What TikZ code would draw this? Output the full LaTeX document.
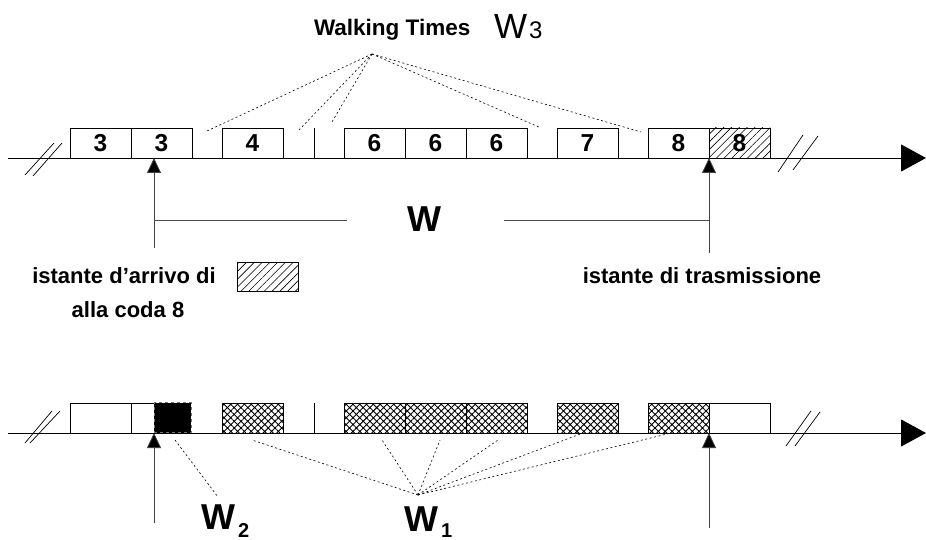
\documentclass[tikz,border=0pt]{standalone}
\usepackage{fontspec}
\setmainfont{Liberation Sans}
\usetikzlibrary{arrows.meta,patterns.meta}

\tikzset{
  slot/.style={draw, line width=0.8pt, minimum width=61pt, minimum height=30pt,
    inner sep=0pt, outer sep=0pt, anchor=south west,
    font=\fontsize{24.5}{25}\selectfont\bfseries},
  hatched/.style={pattern={Lines[angle=45,distance=5.5pt,line width=0.6pt]}},
  cross/.style={pattern={Hatch[angle=45,distance=4.8pt,line width=0.9pt]}},
  axis/.style={line width=0.9pt, -{Triangle[length=25pt,width=27pt]}},
  uparrow/.style={line width=0.8pt, draw=black!75, -{Triangle[length=15pt,width=14pt,fill=black]}},
  guide/.style={line width=0.8pt, draw=black!70},
  wt/.style={dash pattern=on 2pt off 2.5pt, line width=0.6pt},
  brk/.style={line width=0.7pt},
  lab/.style={inner sep=0pt, outer sep=0pt, font=\fontsize{22}{24}\selectfont\bfseries},
  big/.style={inner sep=0pt, outer sep=0pt, font=\fontsize{36}{38}\selectfont\bfseries},
  sub/.style={inner sep=0pt, outer sep=0pt, font=\fontsize{20}{22}\selectfont\bfseries},
  tick/.style={line width=0.8pt},
}

\begin{document}
\begin{tikzpicture}[x=1pt,y=-1pt]
\fill[white] (0,0) rectangle (926,540);
\useasboundingbox (0,0) rectangle (926,540);

% ---------- upper time line ----------
\coordinate (tA) at (8,158);
\coordinate (tB) at (926,158);
\draw[axis] (tA) -- (tB);

\node[slot] (b1) at (70,158) {3};
\node[slot] (b2) at (131,158) {3};
\node[slot] (b3) at (222,158) {4};
\node[slot] (b4) at (344,158) {6};
\node[slot] (b5) at (405,158) {6};
\node[slot] (b6) at (466,158) {6};
\node[slot] (b7) at (557,158) {7};
\node[slot] (b8) at (648,158) {8};
\node[slot,hatched] (b9) at (709,158) {8};
\coordinate (k1) at (314,128);
\coordinate (k1b) at (314,158);
\draw[tick] (k1) -- (k1b);

% break marks
\coordinate (s1a) at (25,175); \coordinate (s1b) at (54,143);
\coordinate (s2a) at (33,176); \coordinate (s2b) at (62,143);
\draw[brk] (s1a) -- (s1b) (s2a) -- (s2b);
\coordinate (s3a) at (778,172); \coordinate (s3b) at (803,135);
\coordinate (s4a) at (793,170); \coordinate (s4b) at (818,136);
\draw[brk] (s3a) -- (s3b) (s4a) -- (s4b);

% walking times
\node[lab, anchor=base west, font=\fontsize{22.5}{24}\selectfont\bfseries] (wtl) at (314,36) {Walking Times};
\node[big, anchor=base west, font=\fontsize{35}{36}\selectfont] (w3) at (494,39) {W};
\node[sub, anchor=base west, font=\fontsize{24}{26}\selectfont] (w3s) at (529,39) {3};
\coordinate (wt) at (372,54);
\coordinate (g1) at (207,131);
\coordinate (g2) at (298,131);
\coordinate (g3) at (332,122);
\coordinate (g4) at (541,128);
\coordinate (g5) at (641,132);
\foreach \g in {g1,g2,g3,g4,g5} \draw[wt] (wt) -- (\g);

% arrival and transmission instants
\coordinate (t1) at (154,158);
\coordinate (a1) at (154,248);
\coordinate (t2) at (709,158);
\coordinate (a2) at (709,253);
\draw[uparrow] (a1) -- (t1);
\draw[uparrow] (a2) -- (t2);
\coordinate (wl) at (347,220);
\coordinate (wr) at (504,220);
\draw[guide] (a1 |- wl) -- (wl);
\draw[guide] (wr) -- (a2 |- wr);
\node[big, anchor=base] (wlab) at (424,232) {W};

\node[lab, anchor=base] (arr1) at (124,283) {istante d’arrivo di};
\node[lab, anchor=base] (arr2) at (128,317) {alla coda 8};
\node[draw, line width=0.8pt, hatched, minimum width=61pt, minimum height=29pt,
  inner sep=0pt, anchor=north west] (key) at (237,262) {};
\node[lab, anchor=base] (tx) at (702,283) {istante di trasmissione};

% ---------- lower time line ----------
\coordinate (uA) at (8,433);
\coordinate (uB) at (926,433);

\node[slot] (c1) at (70,433) {};
\node[slot, minimum width=23pt] (c2) at (131,433) {};
\node[draw=black!55, dashed, line width=0.8pt, fill=black, minimum width=37pt,
  minimum height=30pt, inner sep=0pt, anchor=south west] (c2b) at (154,433) {};
\node[slot,cross] (c3) at (222,433) {};
\node[slot,cross] (c4) at (344,433) {};
\node[slot,cross] (c5) at (405,433) {};
\node[slot,cross] (c6) at (466,433) {};
\node[slot,cross] (c7) at (557,433) {};
\node[slot,cross] (c8) at (648,433) {};
\node[slot] (c9) at (709,433) {};
\coordinate (k2) at (314,403);
\coordinate (k2b) at (314,433);
\draw[tick] (k2) -- (k2b);
\draw[axis] (uA) -- (uB);

\coordinate (s5a) at (25,443); \coordinate (s5b) at (52,411);
\coordinate (s6a) at (30,443); \coordinate (s6b) at (60,411);
\draw[brk] (s5a) -- (s5b) (s6a) -- (s6b);
\coordinate (s7a) at (786,446); \coordinate (s7b) at (811,411);
\coordinate (s8a) at (795,446); \coordinate (s8b) at (820,412);
\draw[brk] (s7a) -- (s7b) (s8a) -- (s8b);

\coordinate (t3) at (154,433);
\coordinate (a3) at (154,523);
\coordinate (t4) at (709,433);
\coordinate (a4) at (709,528);
\draw[uparrow] (a3) -- (t3);
\draw[uparrow] (a4) -- (t4);

% W2 and W1
\coordinate (p2) at (175,440);
\coordinate (q2) at (218,497);
\draw[wt] (p2) -- (q2);
\node[big, anchor=base west] (w2) at (201,529) {W};
\node[sub, anchor=base west] (w2s) at (238,537) {2};

\coordinate (w1apex) at (418,495);
\coordinate (h1) at (252,440);
\coordinate (h2) at (382,440);
\coordinate (h3) at (440,440);
\coordinate (h4) at (498,440);
\coordinate (h5) at (583,433);
\coordinate (h6) at (671,433);
\foreach \h in {h1,h2,h3,h4,h5,h6} \draw[wt] (w1apex) -- (\h);
\node[big, anchor=base west] (w1) at (404,531) {W};
\node[sub, anchor=base west] (w1s) at (441,537) {1};
\end{tikzpicture}
\end{document}
